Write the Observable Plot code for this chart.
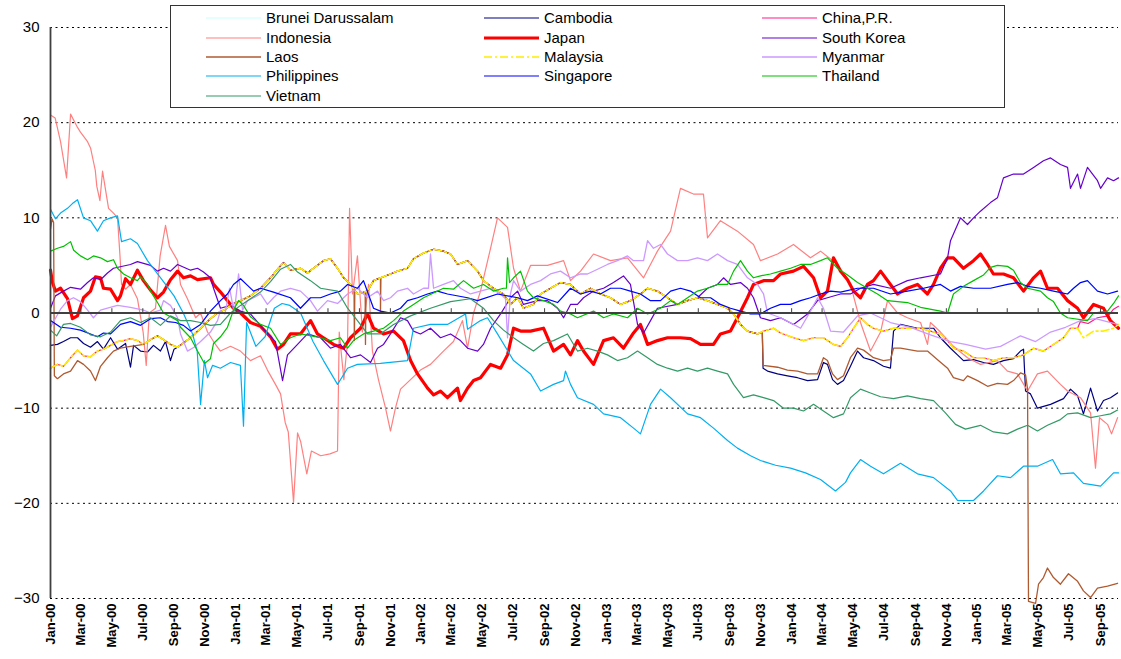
<!DOCTYPE html>
<html><head><meta charset="utf-8">
<script src="https://cdn.jsdelivr.net/npm/d3@7"></script>
<script src="https://cdn.jsdelivr.net/npm/@observablehq/plot@0.6"></script>
<style>
body{margin:0;background:#fff;}
#wrap{position:relative;width:1121px;height:659px;font-family:"Liberation Sans",Arial,sans-serif;}
#legend{position:absolute;left:170px;top:5px;width:835px;height:103px;border:1.5px solid #333;background:#fff;box-sizing:border-box;}
.item{position:absolute;display:flex;align-items:center;height:16px;font-size:15px;color:#000;white-space:nowrap;}
.item svg{margin-right:5px;}
</style></head><body><div id="wrap"><div id="legend"></div></div>
<script>
// time in months since 1 Jan 2000, value in %
const indonesia = [[0,20.8],[0.3,20.5],[0.65,18],[1.04,14.2],[1.3,20.9],[1.75,19.5],[1.94,19],[2.4,18],[2.6,17.3],[2.9,15],[3.0,13.3],[3.2,11.8],[3.37,14.9],[3.56,13],[3.76,11],[4.08,10.5],[4.34,10],[4.5,6],[4.6,3],[4.86,2.5],[5.18,3],[5.63,1.5],[6.0,-2],[6.2,-5.5],[6.4,0],[6.8,0.5],[7.1,6],[7.45,9.2],[7.7,7],[8.23,5.5],[8.42,3],[8.87,1.5],[9.4,-0.5],[9.72,0],[10.17,-2],[10.56,-3],[11.0,-4],[11.66,-3.5],[12.3,-4],[12.95,-5],[13.6,-4.5],[14.05,-6],[14.57,-7.5],[14.9,-8.5],[15.2,-11.5],[15.4,-12.5],[15.74,-19.9],[16.0,-12.6],[16.2,-13.5],[16.6,-16.9],[16.9,-14.5],[17.5,-15],[18.1,-14.8],[18.59,-14.5],[18.7,-2],[19.0,-7],[19.24,-3],[19.37,11],[19.56,2],[19.88,6],[20.2,-2],[20.6,3],[20.85,-4],[21.24,-7],[21.7,-10],[22.02,-12.4],[22.34,-10],[22.67,-8],[23.32,-7],[23.96,-6],[24.61,-5.4],[25.45,-4],[26.1,-3],[26.68,-0.8],[27.01,-3.7],[27.4,0],[27.85,2.3],[28.5,6.8],[28.95,10],[29.6,9],[29.99,4.7],[30.44,2.3],[31.09,5],[32.19,5],[33.23,5.5],[33.68,3.4],[34.33,4.4],[35.17,6.2],[36.27,5.5],[37.37,5.8],[38.41,3.7],[39.31,6.5],[40.16,8.6],[40.8,13.1],[41.64,12.5],[42.29,12.5],[42.55,7.9],[43.39,9.7],[44.49,8.6],[45.53,7.2],[45.98,5.5],[47.09,6.2],[48.12,7.2],[49.22,5.8],[49.87,6.5],[50.97,5.1],[51.81,3],[52.46,-1],[53.11,-4],[53.76,-2],[54.21,1.3],[54.86,0],[55.5,-0.5],[56.35,-1],[56.8,-3.3],[56.99,-1],[57.64,-2],[58.48,-3.5],[59.39,-4.7],[60.23,-5.4],[61.33,-5],[61.98,-6.1],[62.63,-6.4],[63.28,-8.2],[63.92,-6.4],[64.57,-6.1],[65.41,-7.5],[65.87,-8.2],[66.71,-8.9],[67.36,-10.5],[67.68,-16.3],[67.94,-11],[68.46,-11.7],[68.72,-12.7],[69.11,-11]];
const philippines = [[0,10.9],[0.32,9.9],[0.65,10.5],[1.1,11],[1.42,11.5],[1.75,11.9],[2.14,10],[2.59,9.7],[3.04,8.6],[3.43,9.7],[3.89,10],[4.34,10.2],[4.6,7.5],[5.18,7.8],[5.63,7.3],[6.28,5.5],[6.8,4.4],[7.45,3],[8.0,1.8],[8.6,0],[9.2,-2.2],[9.5,-4],[9.72,-9.6],[9.97,-5],[10.17,-6.8],[10.5,-5.5],[11.0,-5.8],[11.66,-5.2],[12.3,-5.5],[12.5,-11.9],[12.7,-1],[13.3,-3.5],[13.9,-2.5],[14.5,0.5],[15.0,1],[15.5,0.8],[16.2,0],[17.0,-3],[17.68,-5],[18.59,-7.5],[19.24,-5.8],[19.88,-5.4],[21.37,-5.3],[23.12,-5],[23.51,-1.6],[24.61,-1.2],[25.71,-1.2],[26.88,-0.1],[27.01,-1.7],[27.85,-0.8],[28.3,-0.5],[28.95,-2.2],[29.99,-5],[31.09,-6.4],[31.74,-8.2],[32.58,-7.5],[33.23,-7.1],[33.35,-6.1],[33.68,-7.5],[34.13,-8.9],[35.17,-9.6],[35.82,-10.6],[36.92,-11],[37.76,-12.1],[38.21,-12.7],[38.86,-9.6],[39.51,-8],[40.16,-8.9],[41.26,-10.6],[42.1,-11],[42.94,-12.1],[43.85,-13.4],[44.49,-14.2],[45.34,-15],[45.98,-15.5],[46.96,-16],[47.93,-16.3],[48.9,-16.8],[49.87,-17.5],[50.84,-18.7],[51.49,-17.8],[51.81,-16.8],[52.46,-15.4],[53.11,-16.1],[53.95,-16.9],[55.05,-15.8],[56.15,-16.9],[57.19,-17.3],[58.29,-18.7],[58.74,-19.7],[59.78,-19.7],[60.43,-18.7],[61.33,-17.1],[62.18,-17.3],[63.02,-16.1],[63.92,-16.1],[64.9,-15.4],[65.41,-16.9],[66.26,-16.8],[66.9,-17.9],[68.01,-18.2],[68.85,-16.8],[69.17,-16.8]];
const japan = [[0,4.5],[0.13,3.2],[0.32,2.3],[0.65,2.6],[1.1,1.5],[1.42,-0.6],[1.75,-0.3],[2.14,1.6],[2.59,2.3],[2.91,3.8],[3.24,3.7],[3.43,2.6],[3.89,2.5],[4.34,1.3],[4.53,1.8],[4.86,3.6],[5.18,3],[5.63,4.5],[6.02,3.4],[6.48,2.4],[6.93,1.6],[7.32,2.2],[7.77,3.5],[8.23,4.4],[8.61,3.7],[9.07,3.9],[9.52,3.5],[10.36,3.7],[10.56,3],[11.01,2.2],[11.46,1.3],[11.85,0.5],[12.31,0],[12.95,-1],[13.6,-1.4],[14.25,-2.5],[14.7,-3.8],[15.09,-3.3],[15.54,-2.2],[16.19,-2.2],[16.84,-0.8],[17.29,-2.2],[17.68,-2.6],[18.33,-3.3],[18.98,-3.7],[19.43,-2.6],[20.08,-1.6],[20.53,-0.1],[20.92,-1.6],[21.57,-2.2],[22.22,-1.9],[22.86,-2.9],[23.32,-5],[23.77,-6.4],[24.42,-7.9],[24.81,-8.6],[25.26,-8.2],[25.71,-8.9],[26.36,-7.9],[26.55,-9.2],[27.01,-7.9],[27.4,-7.1],[27.85,-6.8],[28.5,-5.4],[29.15,-5.8],[29.6,-4.4],[29.99,-1.6],[30.44,-1.9],[31.09,-1.9],[31.93,-1.6],[32.58,-4],[33.23,-3.3],[33.68,-4.4],[34.13,-2.9],[34.52,-4],[35.17,-5.4],[35.82,-2.9],[36.46,-2.6],[37.11,-3.7],[37.76,-2.1],[38.21,-1.2],[38.67,-3.3],[39.31,-2.9],[39.96,-2.6],[40.8,-2.6],[41.45,-2.7],[42.1,-3.3],[42.94,-3.3],[43.39,-2.2],[44.04,-1.9],[44.49,-0.5],[45.14,1.6],[45.53,3],[46.18,3.4],[46.83,3.4],[47.28,4.1],[48.12,4.4],[48.77,4.9],[49.42,3.7],[49.87,1.6],[50.32,2.3],[50.71,5.8],[51.17,4.4],[51.62,3.5],[52.01,2.3],[52.46,1.6],[52.91,3],[53.3,3.4],[53.76,4.4],[54.4,3],[54.86,2],[55.5,2.6],[56.15,3],[56.8,2],[57.19,3],[57.64,4.7],[58.1,5.8],[58.48,5.8],[59.13,4.7],[59.78,5.5],[60.23,6.2],[60.69,5.1],[61.07,4.1],[61.72,4.1],[62.37,3.7],[63.02,2.3],[63.67,3.7],[64.12,4.4],[64.57,2.6],[65.22,2.6],[65.87,1.3],[66.52,0.5],[66.9,-0.5],[67.55,0.9],[68.2,0.5],[68.65,-0.8],[69.17,-1.6]];
const southKorea = [[0,0.5],[0.32,1.8],[0.84,2.3],[1.3,2.7],[1.94,2.5],[2.4,3.2],[2.78,3.7],[3.24,3.5],[3.69,4.2],[4.08,4.7],[5.18,5.1],[5.63,5.4],[6.48,5],[6.93,4.4],[7.32,4.7],[7.77,4.4],[8.23,5.1],[9.07,4.5],[9.52,4.7],[9.91,4.3],[10.36,3.7],[10.56,2.6],[11.01,0.5],[11.66,0.8],[12.31,0.2],[12.95,-0.1],[13.92,-1.9],[14.57,-3],[15.03,-7.1],[15.35,-4.4],[16.0,-3.3],[16.64,-2.2],[17.49,-2.6],[18.13,-3.7],[18.78,-3.3],[19.43,-4.7],[20.08,-4.4],[20.73,-5.2],[21.18,-3.7],[21.57,-3.3],[22.02,-2.2],[22.67,-0.5],[23.12,-0.8],[23.51,-1.9],[23.96,-2.2],[24.61,-1.6],[25.26,-2.6],[25.91,-2.2],[26.55,-2.9],[27.01,-3.7],[27.66,-4],[28.04,-3.3],[28.5,-1.6],[29.15,-0.1],[29.79,1.6],[30.25,2.3],[30.63,0.9],[31.54,1.3],[32.19,1.3],[32.84,0.5],[33.23,-0.5],[33.68,0.9],[34.13,0.9],[34.52,1.6],[35.17,2.3],[35.82,2.6],[36.46,3.2],[37.11,3.9],[37.56,3],[38.02,-1.2],[38.41,-2.1],[38.86,-0.8],[39.31,0.5],[40.61,0.9],[41.26,1.3],[41.9,1.6],[42.55,2.6],[43.2,3],[43.59,3.7],[44.04,3],[44.69,3.2],[45.14,2.6],[45.53,1.6],[45.98,-0.5],[46.63,-0.8],[47.28,-0.5],[48.12,-1.2],[49.03,-0.1],[49.68,1.3],[50.32,1.6],[51.17,2],[51.81,2],[52.46,2.6],[53.3,3],[54.4,2.6],[55.5,3.4],[56.35,3.7],[57.64,4.1],[58.1,5.8],[58.29,7.6],[58.48,8.3],[58.94,10],[59.39,9.3],[59.78,10],[60.23,10.7],[60.88,11.6],[61.33,12.1],[61.72,14.2],[62.37,14.6],[63.02,14.6],[63.67,15.3],[64.31,16],[64.77,16.3],[65.41,15.6],[65.87,15.3],[66.06,13.1],[66.52,14.6],[66.71,13.1],[67.16,15.3],[67.81,13.9],[68.01,13.1],[68.46,14.2],[68.85,13.9],[69.17,14.2]];
const singapore = [[0,-0.8],[0.65,-1.5],[1.3,-1.6],[1.94,-1.8],[2.59,-2.2],[3.04,-2.5],[3.43,-2.1],[3.89,-2.2],[4.53,-1.2],[5.18,-0.9],[5.83,-1.3],[6.48,-0.6],[7.12,-0.5],[7.58,-0.9],[8.1,-1],[8.61,-1.3],[9.07,-1.9],[9.72,-1.2],[10.36,0.2],[11.01,1.3],[11.46,2],[11.85,3],[12.31,3.6],[12.76,2.9],[13.15,2.3],[13.6,2.6],[14.44,2.2],[15.54,1.6],[16.19,0.5],[16.84,1.6],[17.49,1.6],[18.13,2],[18.78,2.3],[19.24,3],[19.88,2.6],[20.27,3.4],[20.92,0.5],[21.37,0.2],[22.02,0],[22.67,0.5],[23.12,1.3],[23.77,1.6],[24.42,2],[25.06,2.3],[25.71,2],[27.01,1.6],[27.66,1.3],[28.95,2],[30.25,1.6],[30.89,1.3],[31.54,1.8],[32.84,1.1],[33.68,2.6],[34.33,2],[34.97,2.3],[35.62,2],[36.27,2.6],[36.92,2.6],[37.56,2.3],[38.21,2],[38.86,1.3],[39.51,1.3],[40.16,2.3],[40.8,2.6],[41.45,2.3],[42.1,1.6],[42.75,1.6],[43.39,0.9],[44.04,0.5],[44.69,0.2],[45.34,-0.1],[45.98,-0.1],[46.63,0.5],[47.28,0.9],[47.93,0.9],[48.58,1.3],[49.22,1.6],[49.87,2],[50.52,2.3],[51.17,2.2],[52.27,2.6],[53.3,2.6],[54.4,2],[55.5,2.3],[56.54,2.6],[57.64,3],[58.29,2.3],[58.94,2.8],[59.78,2.6],[60.88,2.6],[61.98,3],[62.63,3.2],[63.28,2.8],[64.12,2.6],[64.96,2.3],[65.87,2],[66.26,2.6],[66.71,3.2],[67.16,3.4],[67.81,2.3],[68.46,2],[69.11,2.3]];
const brunei = singapore.map(([t, v]) => [t, v]);
const malaysia = [[0,-5.8],[0.45,-5.4],[0.84,-5.6],[1.3,-4.7],[1.75,-3.9],[2.14,-4.5],[2.59,-4.6],[3.04,-4],[3.43,-3.8],[3.89,-3.4],[4.34,-3],[4.73,-2.9],[5.18,-2.7],[5.63,-2.9],[6.02,-3.3],[6.48,-2.8],[6.93,-2.4],[7.32,-2.8],[7.77,-3.3],[8.23,-3.6],[9.07,-2.6],[9.72,-1.6],[10.36,-0.6],[10.82,0],[11.33,0.4],[11.85,1],[12.31,1.3],[12.95,1.8],[13.6,2.6],[14.25,3.7],[14.7,4.6],[15.09,5.3],[15.54,4.5],[16.19,4.7],[16.64,4.2],[17.03,4.7],[17.68,5.5],[18.13,5.7],[18.59,4.7],[18.98,3.7],[19.43,3],[19.88,2],[20.53,2.3],[20.92,3.4],[21.37,3.7],[22.02,4.1],[22.47,4.4],[23.12,4.7],[23.51,5.7],[24.16,6.3],[24.81,6.7],[25.45,6.5],[25.91,6.2],[26.36,5.1],[27.01,5.5],[27.66,4.4],[28.04,3.4],[28.69,2.6],[29.34,2],[29.79,0.9],[30.25,1.6],[30.63,0.5],[31.28,0.9],[31.74,2],[32.38,2.6],[33.03,3.2],[33.68,3],[34.33,2],[34.97,2.6],[35.62,2],[36.27,1.6],[36.92,0.9],[37.56,1.3],[38.21,2],[38.67,2.6],[39.31,2.3],[39.96,1.6],[40.61,0.9],[41.26,1.3],[41.9,1.6],[42.55,1.3],[43.2,0.9],[43.85,0.5],[44.24,-0.1],[44.69,-1.2],[45.14,-1.9],[45.79,-2.2],[46.18,-1.9],[46.83,-1.6],[47.28,-2.1],[48.12,-2.6],[48.77,-2.9],[49.42,-2.6],[50.06,-2.6],[50.71,-3.3],[51.17,-3.5],[51.62,-2.6],[52.01,-1.6],[52.46,-0.5],[52.91,-1.2],[53.3,-1.6],[53.95,-1.9],[54.6,-1.6],[55.5,-1.6],[56.35,-1.6],[56.99,-1.9],[57.64,-2.2],[58.1,-2.9],[58.48,-3.7],[59.13,-4],[59.78,-4.7],[60.43,-4.7],[61.07,-5],[61.72,-4.7],[62.37,-4.7],[63.02,-4.4],[63.67,-3.7],[64.31,-4],[64.96,-3.3],[65.61,-2.6],[66.06,-1.6],[66.52,-1.6],[66.9,-2.6],[67.55,-1.9],[68.2,-1.9],[68.85,-1.6],[69.17,-1.2]];
const chinaAfterJul05 = [[66.7,-0.9],[67.2,-1.1],[67.8,-0.5],[68.5,-0.3],[68.85,0.4],[69.17,0.7]];
const cambodiaEarly = [[0,-3.4],[0.45,-3.3],[0.84,-3],[1.3,-2.6],[1.75,-2.6],[2.14,-3.2],[2.59,-3.6],[3.04,-3],[3.43,-3.8],[3.89,-2.6],[4.34,-3.8],[4.86,-3.2],[5.18,-5.7],[5.38,-3.4],[5.83,-4],[6.28,-4.1],[6.67,-3.4],[7.12,-4],[7.45,-3],[7.77,-5],[8.0,-3.8]];
const cambodiaLate = [[46.1,-2],[46.15,-5.8],[46.44,-6.1],[47.09,-6.4],[47.73,-6.6],[48.38,-6.8],[49.03,-7.1],[49.68,-7],[50.06,-5.2],[50.32,-5.4],[50.65,-7],[50.97,-7.5],[51.36,-7.1],[51.81,-5.6],[52.27,-4],[52.66,-4.7],[53.3,-5],[53.95,-5.6],[54.4,-5.8],[54.6,-1.9],[55.05,-1.2],[56.15,-1.6],[57.19,-1.6],[57.64,-2.6],[58.29,-3.7],[58.74,-4.4],[59.13,-5],[59.78,-4.9],[60.43,-5.2],[61.07,-5.4],[61.72,-5],[62.37,-4.8],[62.82,-4],[63.02,-3.8],[63.15,-8.2],[63.47,-8.5],[63.92,-10],[64.77,-9.6],[65.61,-9],[66.06,-8],[66.52,-8.7],[66.9,-10.6],[67.36,-7.9],[67.81,-10.3],[68.2,-9.2],[68.65,-8.9],[69.11,-8.4]];
const laosEarly = [[0,8.8],[0.1,9.9],[0.2,9.5],[0.25,-6.6],[0.45,-6.9],[0.84,-6.4],[1.3,-6.1],[1.75,-5],[2.14,-5.4],[2.59,-6.1],[2.91,-7.1],[3.24,-5.6],[3.69,-4.7],[4.08,-4],[4.53,-3.7],[5.18,-3.5],[5.63,-3.4]];
const laosSpikes = [[19.66,2.6],[19.68,-2.9],[19.71,2.4],[20.38,2.2],[20.4,-3.3],[20.43,2.3],[21.35,3.7],[21.37,0],[21.4,3.7]];
const laosLate = [[46.1,-2],[46.15,-5.5],[47.09,-5.7],[47.73,-6],[48.38,-6.1],[49.03,-6.4],[49.68,-6.4],[50.06,-4.7],[50.32,-5],[50.65,-6.4],[50.97,-7],[51.36,-6.6],[51.81,-4.7],[52.27,-3.7],[52.66,-3.9],[53.3,-4.7],[53.95,-5],[54.4,-4.9],[54.6,-3.7],[55.05,-3.7],[56.15,-4],[56.8,-4],[57.45,-4.9],[58.1,-5.8],[58.48,-6.8],[59.13,-7.1],[59.39,-6.6],[60.04,-7.1],[60.69,-7.7],[61.33,-7.4],[61.98,-7.5],[62.37,-7.1],[62.82,-6.3],[63.15,-6.5],[63.28,-8],[63.34,-30.3],[63.8,-30.5],[63.99,-28.5],[64.31,-27.8],[64.57,-26.8],[64.96,-27.8],[65.41,-28.5],[65.93,-27.4],[66.52,-28.2],[66.9,-29.2],[67.36,-29.9],[67.81,-28.9],[68.46,-28.7],[69.11,-28.4]];
const myanmar = [[0,-1.5],[0.65,0.4],[1.1,1.3],[1.49,1.6],[1.94,1.2],[2.4,0.3],[2.78,-0.5],[3.24,0.3],[3.69,0.5],[4.34,0.8],[5.18,0.6],[6.02,0.3],[6.48,0],[7.12,0.3],[7.32,1.3],[7.77,0.8],[8.23,-0.5],[8.42,-2.2],[8.87,-4],[9.3,-3.6],[9.72,-3],[10.36,-2],[10.82,-0.8],[11.01,0.3],[11.3,-0.1],[11.6,2.6],[11.9,0],[12.18,4.1],[12.44,0.3],[12.76,1.3],[13.15,1.6],[13.6,2],[14.05,0.9],[14.44,1.6],[14.9,2.3],[15.54,2.6],[16.19,2.3],[16.84,1.3],[17.29,0.2],[17.94,1.3],[18.59,1],[19.24,2],[19.88,2.6],[20.53,1.6],[21.18,2.3],[21.57,1.3],[22.02,1.6],[22.47,2.3],[23.12,2.6],[23.51,2],[24.16,2.6],[24.48,2.6],[24.61,6.2],[24.81,2.6],[25.45,3],[26.1,3.4],[26.55,2.6],[27.2,2],[27.85,2.3],[28.5,2.6],[29.15,2],[29.47,1.5],[29.6,-2.6],[29.79,2],[29.99,3.4],[30.44,2.3],[31.09,3],[31.74,3.4],[32.38,4.1],[33.03,4.4],[33.68,3.7],[34.33,4.1],[34.78,4.1],[35.43,4.6],[36.07,5.1],[36.72,5.5],[37.37,6],[37.76,5.5],[38.41,5.5],[38.67,7.6],[39.05,6.8],[39.51,7.2],[39.96,6.2],[40.61,5.5],[41.26,5.5],[41.9,5.8],[42.55,5.5],[43.2,6.2],[43.85,5.5],[44.49,5.1],[45.14,3.7],[45.79,3],[46.18,2],[46.44,0],[47.28,-0.5],[48.12,-1.2],[48.58,-1.6],[49.22,0.2],[49.68,1.6],[50.06,0.5],[50.52,-1.9],[51.36,-2],[52.27,-0.3],[53.11,0],[54.4,-1],[55.7,-1.5],[56.99,-2.3],[58.29,-3],[59.26,-3.3],[60.56,-3.8],[61.53,-3.5],[62.82,-2.4],[63.8,-3],[64.77,-2],[65.74,-1.5],[66.71,-0.8],[67.68,-0.6],[69.11,-1.2]];
const thailand = [[0,6.5],[0.45,6.8],[0.84,7],[1.3,7.5],[1.5,6.6],[1.94,6],[2.4,5.6],[2.78,6],[3.24,5.8],[3.69,5.4],[4.08,5.6],[4.34,4.7],[4.73,4.1],[5.18,3.7],[5.63,3.4],[5.83,3.8],[6.28,3],[6.48,2.3],[6.93,1.1],[7.32,0],[7.77,-0.4],[8.23,-0.8],[8.42,-1.5],[9.07,-2.6],[9.52,-4],[9.97,-5.3],[10.36,-4.8],[10.56,-3.2],[11.01,-2.5],[11.46,-1.5],[11.85,0.3],[12.18,1.3],[12.5,0.8],[12.95,-0.4],[13.6,-1.2],[14.25,-1.6],[14.9,-3.3],[15.54,-2.6],[16.19,-2.2],[17.49,-2.6],[18.13,-2.9],[18.78,-2.6],[19.24,-3.7],[19.62,-2.9],[20.27,-2.2],[20.92,-1.9],[21.57,-1.6],[22.22,-0.8],[22.86,0.2],[23.51,0.9],[24.16,1.6],[24.81,2.1],[25.45,2.6],[26.1,2.5],[26.75,3.4],[27.4,2.6],[28.04,3],[28.69,2.3],[29.34,2.6],[29.53,2.6],[29.6,5.8],[29.73,3.2],[29.99,3.7],[30.44,4.4],[30.89,2.3],[31.28,1.6],[31.93,1.3],[32.58,0.9],[33.03,0.2],[33.68,-0.1],[34.13,-0.5],[35.17,0.2],[35.82,-0.5],[36.46,-0.1],[37.37,-0.5],[38.02,0.5],[38.67,-0.1],[39.51,0.5],[40.16,1.3],[40.61,0.9],[41.26,1.6],[41.9,2.3],[42.55,2.6],[43.2,3],[43.85,3],[44.24,4.4],[44.69,5.5],[45.14,4.4],[45.53,3.7],[45.98,3.9],[46.63,4.1],[47.28,4.4],[47.93,4.7],[48.58,5.1],[49.22,5.1],[49.87,5.5],[50.32,5.8],[50.97,4.7],[51.62,4],[52.27,3.2],[52.91,2.6],[53.56,2],[54.21,1.3],[55.5,1.1],[56.35,0.6],[57.64,0.2],[58.1,0],[58.48,2],[59.13,2.8],[59.78,3.4],[60.43,4],[60.88,4.8],[61.33,5],[61.98,4.9],[62.37,4.5],[62.82,3.2],[63.28,2.6],[64.12,2.3],[64.57,1.6],[64.96,1.2],[65.41,0],[65.87,-0.5],[67.16,-0.8],[67.55,0],[68.46,0.2],[68.85,1],[69.17,1.8]];
const vietnam = [[0,-1.8],[0.4,-2.4],[0.84,-1.2],[1.3,-1.1],[1.94,-1.5],[2.59,-2.3],[3.24,-2.5],[3.89,-2],[4.53,-0.8],[5.18,-0.5],[5.83,-1],[6.48,-0.5],[7.12,-1.3],[7.77,-0.3],[8.42,-0.8],[9.07,-0.8],[9.72,-1],[10.36,-1.3],[11.01,-1.2],[11.66,0],[12.31,0.8],[12.95,1.5],[13.6,2.2],[14.25,3.3],[14.9,4.6],[15.54,5.1],[16.0,4.3],[16.84,3.4],[17.49,2.6],[18.59,2.3],[19.24,0.5],[19.88,-0.8],[20.53,-2.2],[21.37,-2.2],[22.22,-1.2],[23.32,-0.3],[24.61,0.5],[25.91,1.2],[27.2,1.5],[28.04,0.5],[28.69,-0.8],[29.34,-1.8],[29.99,-2.6],[30.63,-3.3],[31.28,-4],[31.93,-3.2],[32.58,-2.9],[33.48,-2.2],[34.13,-4],[34.78,-3.7],[35.43,-4],[36.07,-4.4],[36.72,-5],[37.37,-4.7],[38.02,-4],[38.67,-4.7],[39.31,-5.4],[39.96,-5.8],[40.61,-6.1],[41.26,-5.8],[41.9,-6.1],[42.55,-5.8],[43.2,-6.1],[43.85,-6.4],[44.24,-7.5],[44.88,-8.9],[45.53,-8.6],[46.18,-8.9],[46.83,-9.2],[47.47,-10],[48.12,-10],[48.77,-10.3],[49.42,-9.6],[50.06,-10.3],[50.71,-11],[51.36,-10.6],[51.81,-8.9],[52.46,-8],[53.11,-8.4],[53.76,-8.8],[54.6,-9],[55.5,-8.7],[56.35,-9],[57.19,-9.2],[57.96,-10.5],[58.61,-11.7],[59.26,-12.2],[60.23,-11.8],[61.07,-12.5],[61.98,-12.7],[62.63,-12.2],[63.28,-11.8],[63.92,-12.4],[64.57,-11.8],[65.41,-11.2],[65.87,-10.6],[66.52,-10.5],[67.36,-11],[68.01,-10.8],[68.65,-10.6],[69.11,-10.2]];

const yTicks = [-30, -20, -10, 0, 10, 20, 30];
const gridValues = [-30, -20, -10, 10, 20, 30];

// series assembled from the readings (pegged currencies share Malaysia's path while they coincide)
const byT = (a, b) => a[0] - b[0];
const china = malaysia.filter(d => d[0] <= 66.6).concat(chinaAfterJul05);
const cambodia = cambodiaEarly.concat(malaysia.filter(d => d[0] > 8.1 && d[0] < 46.1), cambodiaLate);
const laos = laosEarly.concat(malaysia.filter(d => d[0] > 5.7 && d[0] < 46.1).concat(laosSpikes).sort(byT), laosLate);

const names = ["Brunei Darussalam","Cambodia","China,P.R.","Indonesia","Japan","South Korea","Laos","Malaysia","Myanmar","Philippines","Singapore","Thailand","Vietnam"];
const values = [brunei, cambodia, china, indonesia, japan, southKorea, laos, malaysia, myanmar, philippines, singapore, thailand, vietnam];
const colors = ["#CCFFFF","#000080","#FF1A8C","#FF8080","#FF0000","#6600CC","#B05A30","#FFEE00","#CC99FF","#00B0F0","#0000FF","#00C000","#339966"];
const widths = [1.2,1.2,1.2,1.2,3.2,1.2,1.3,1.6,1.3,1.2,1.2,1.2,1.2];
const dashes = [null,null,null,null,null,null,null,"8,3,2,3",null,null,null,null,null];

const T0 = new Date(2000, 0, 1);
const toDate = t => new Date(T0.getTime() + t * 30.4375 * 864e5);
const xEnd = toDate(69.17);
const xTickDates = d3.timeMonth.every(2).range(new Date(2000, 0, 1), new Date(2005, 9, 2));
const fmt = d3.timeFormat("%b-%y");

const lineMarks = names.map((name, i) => Plot.line(values[i].map(([t, v]) => ({date: toDate(t), value: v})), {
  x: "date", y: "value", stroke: colors[i], strokeWidth: widths[i],
  strokeDasharray: dashes[i] || undefined, strokeLinejoin: "round", curve: "linear"
}));

const chart = Plot.plot({
  width: 1121, height: 659,
  marginLeft: 50, marginRight: 3, marginTop: 27, marginBottom: 61,
  style: {fontFamily: "'Liberation Sans', Arial, sans-serif", background: "white", color: "#000"},
  x: {type: "time", domain: [T0, xEnd], label: null},
  y: {domain: [-30, 30], label: null},
  marks: [
    Plot.ruleY(gridValues, {stroke: "#000", strokeWidth: 1, strokeDasharray: "2,3.5"}),
    ...lineMarks,
    Plot.ruleY([0], {stroke: "#404040", strokeWidth: 1.8}),
    Plot.ruleX(xTickDates, {y1: 0, y2: 0.45, stroke: "#404040", strokeWidth: 1}),
    Plot.ruleX([T0], {y1: -30, y2: 30, stroke: "#404040", strokeWidth: 1.8}),
    Plot.axisY({ticks: yTicks, label: null, tickSize: 0, tickPadding: 11, fontSize: 15, tickFormat: d => d < 0 ? "\u2212" + Math.abs(d) : String(d)}),
    Plot.axisX({ticks: xTickDates, label: null, tickSize: 0, tickPadding: 5, tickRotate: -90, fontSize: 13, fontWeight: "bold", tickFormat: fmt})
  ]
});
const wrap = document.getElementById("wrap");
wrap.insertBefore(chart, wrap.firstChild);

// legend (inside the plot frame, boxed)
const legend = document.getElementById("legend");
const colX = [35, 313, 591];
const rowY = [13, 33, 52, 71, 91];
names.forEach((name, i) => {
  const c = i % 3, r = Math.floor(i / 3);
  const item = document.createElement("div");
  item.className = "item";
  item.style.left = colX[c] + "px";
  item.style.top = (rowY[r] - 8 - 1.5) + "px";
  const ns = "http://www.w3.org/2000/svg";
  const svg = document.createElementNS(ns, "svg");
  svg.setAttribute("width", 55); svg.setAttribute("height", 8);
  const ln = document.createElementNS(ns, "line");
  ln.setAttribute("x1", 0); ln.setAttribute("x2", 55); ln.setAttribute("y1", 4); ln.setAttribute("y2", 4);
  ln.setAttribute("stroke", colors[i]); ln.setAttribute("stroke-width", widths[i]);
  if (dashes[i]) ln.setAttribute("stroke-dasharray", dashes[i]);
  svg.appendChild(ln);
  item.appendChild(svg);
  const span = document.createElement("span");
  span.textContent = name;
  item.appendChild(span);
  legend.appendChild(item);
});
</script></body></html>
